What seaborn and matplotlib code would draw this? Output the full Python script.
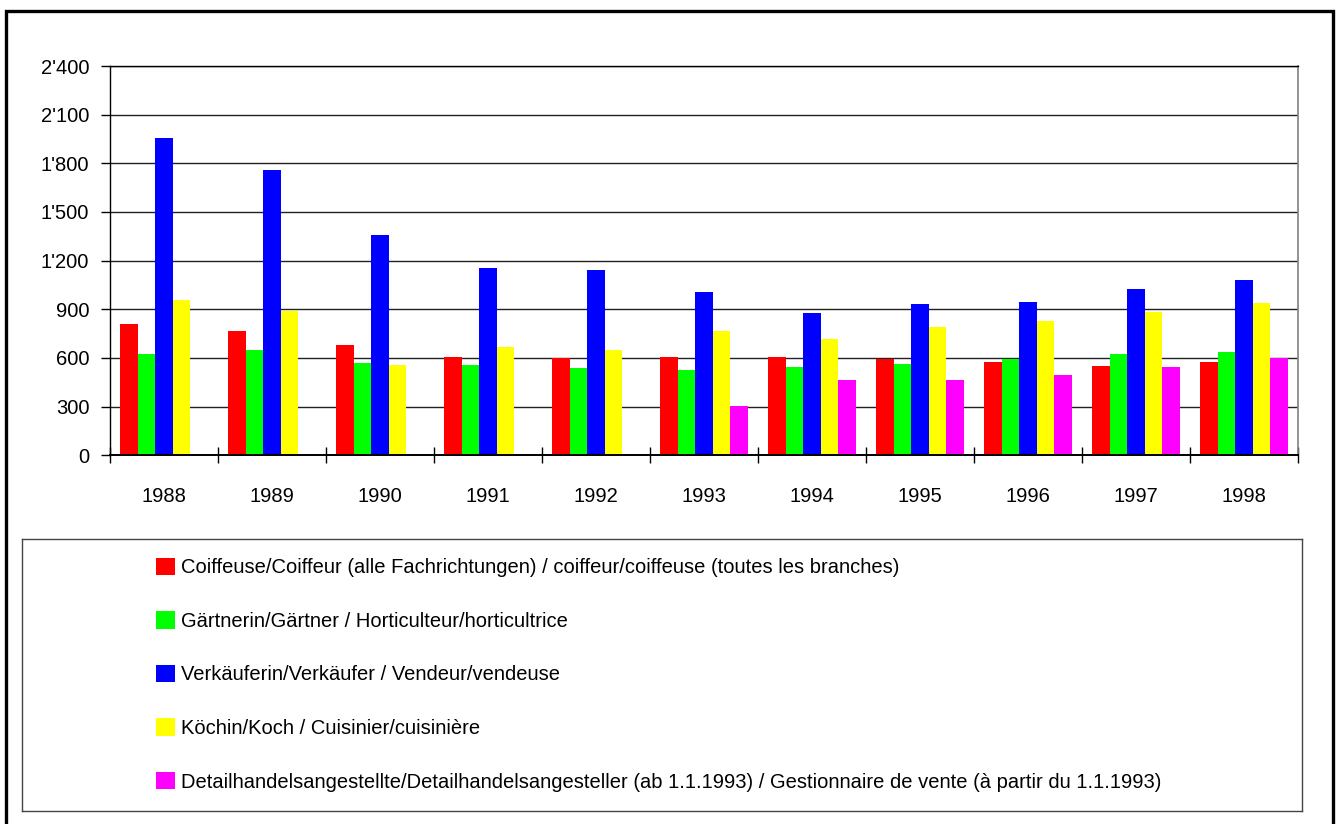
import numpy as np
import pandas as pd
import matplotlib
matplotlib.use("Agg")
import matplotlib.pyplot as plt
from matplotlib import font_manager as fm
from matplotlib.patches import Rectangle
import seaborn as sns

# ---------------- data ----------------
years = ["1988", "1989", "1990", "1991", "1992", "1993", "1994", "1995", "1996", "1997", "1998"]
series_names = [
    "Coiffeuse/Coiffeur (alle Fachrichtungen) / coiffeur/coiffeuse (toutes les branches)",
    "Gärtnerin/Gärtner / Horticulteur/horticultrice",
    "Verkäuferin/Verkäufer / Vendeur/vendeuse",
    "Köchin/Koch / Cuisinier/cuisinière",
    "Detailhandelsangestellte/Detailhandelsangesteller (ab 1.1.1993) / Gestionnaire de vente (à partir du 1.1.1993)",
]
coiffeur = [807, 766, 678, 606, 597, 608, 608, 593, 578, 548, 578]
gaertner = [624, 651, 567, 554, 538, 528, 544, 562, 591, 626, 634]
verkaeufer = [1957, 1758, 1359, 1156, 1140, 1008, 875, 930, 944, 1026, 1082]
koch = [959, 889, 558, 665, 649, 766, 717, 790, 825, 883, 940]
detailhandel = [np.nan, np.nan, np.nan, np.nan, np.nan, 304, 462, 462, 493, 544, 600]
colors = ["#FF0000", "#00FF00", "#0000FF", "#FFFF00", "#FF00FF"]
y_ticks = [0, 300, 600, 900, 1200, 1500, 1800, 2100, 2400]
y_tick_labels = ["0", "300", "600", "900", "1'200", "1'500", "1'800", "2'100", "2'400"]

values = [coiffeur, gaertner, verkaeufer, koch, detailhandel]
rows = []
for name, vals in zip(series_names, values):
    for yr, v in zip(years, vals):
        rows.append({"year": yr, "series": name, "value": v})
df = pd.DataFrame(rows).dropna()

# ---------------- fonts ----------------
sns.set_theme(style="white")
try:
    fm.findfont(fm.FontProperties(family="Liberation Sans Narrow"), fallback_to_default=False)
    FONT = "Liberation Sans Narrow"
    FS = 17
except Exception:
    FONT = "Liberation Sans"
    FS = 14.5
plt.rcParams["font.family"] = [FONT, "DejaVu Sans"]

W, H = 1340, 824
fig = plt.figure(figsize=(W / 100, H / 100), dpi=100)
fig.patch.set_facecolor("white")

def fx(px):
    return px / W

def fy(py):
    return 1 - py / H

# main axes
ax_l, ax_r, ax_t, ax_b = 110, 1298, 66, 455.3
ax = fig.add_axes([fx(ax_l), fy(ax_b), fx(ax_r - ax_l), (ax_b - ax_t) / H])

sns.barplot(data=df, x="year", y="value", hue="series", hue_order=series_names,
            order=years, palette=colors, width=0.815, saturation=1, errorbar=None,
            linewidth=0, edgecolor="none", legend=True, ax=ax)

leg = ax.get_legend()
handles = list(leg.legend_handles)
labels = [t.get_text() for t in leg.get_texts()]
leg.remove()

ax.set_xlim(-0.5, len(years) - 0.5)
ax.set_ylim(0, 2400)
ax.set_yticks(y_ticks)
ax.set_yticklabels(y_tick_labels, fontsize=FS, color="black")
ax.set_xticks(range(len(years)))
ax.set_xticklabels(years, fontsize=FS, color="black")
ax.set_xticks(np.arange(-0.5, len(years), 1), minor=True)
ax.tick_params(axis="x", which="major", length=0, pad=23)
ax.tick_params(axis="x", which="minor", length=12, width=1, direction="inout", color="black", bottom=True)
ax.tick_params(axis="y", which="major", length=6.5, width=1, direction="out", color="black", pad=8.4, left=True)
ax.set_xlabel("")
ax.set_ylabel("")
ax.yaxis.grid(True, color="#222222", linewidth=1)
ax.set_axisbelow(True)
for side in ["left", "bottom", "top"]:
    ax.spines[side].set_color("black")
    ax.spines[side].set_linewidth(1)
ax.spines["bottom"].set_linewidth(1.4)
ax.spines["right"].set_color("#808080")
ax.spines["right"].set_linewidth(1.2)
ax.set_facecolor("white")

# legend box
lg_l, lg_r, lg_t, lg_b = 22, 1302, 539, 811
lax = fig.add_axes([fx(lg_l), fy(lg_b), fx(lg_r - lg_l), (lg_b - lg_t) / H])
lax.set_xticks([])
lax.set_yticks([])
for s in lax.spines.values():
    s.set_color("#444444")
    s.set_linewidth(1)
lax.set_facecolor("white")

lg = fig.legend(handles, labels, loc="upper left",
                bbox_to_anchor=(fx(156), fy(557.5)), bbox_transform=fig.transFigure,
                frameon=False, fontsize=FS, borderpad=0, borderaxespad=0,
                handlelength=0.95, handleheight=0.95, handletextpad=0.3,
                labelspacing=1.69)
for t in lg.get_texts():
    t.set_color("black")

# outer border
fig.patches.append(Rectangle((fx(5.5), -0.05), fx(1333 - 5.5), fy(10.5) + 0.05,
                             transform=fig.transFigure, fill=False,
                             edgecolor="black", linewidth=2.4, zorder=10))

fig.savefig("out.png", dpi=100, facecolor="white")
